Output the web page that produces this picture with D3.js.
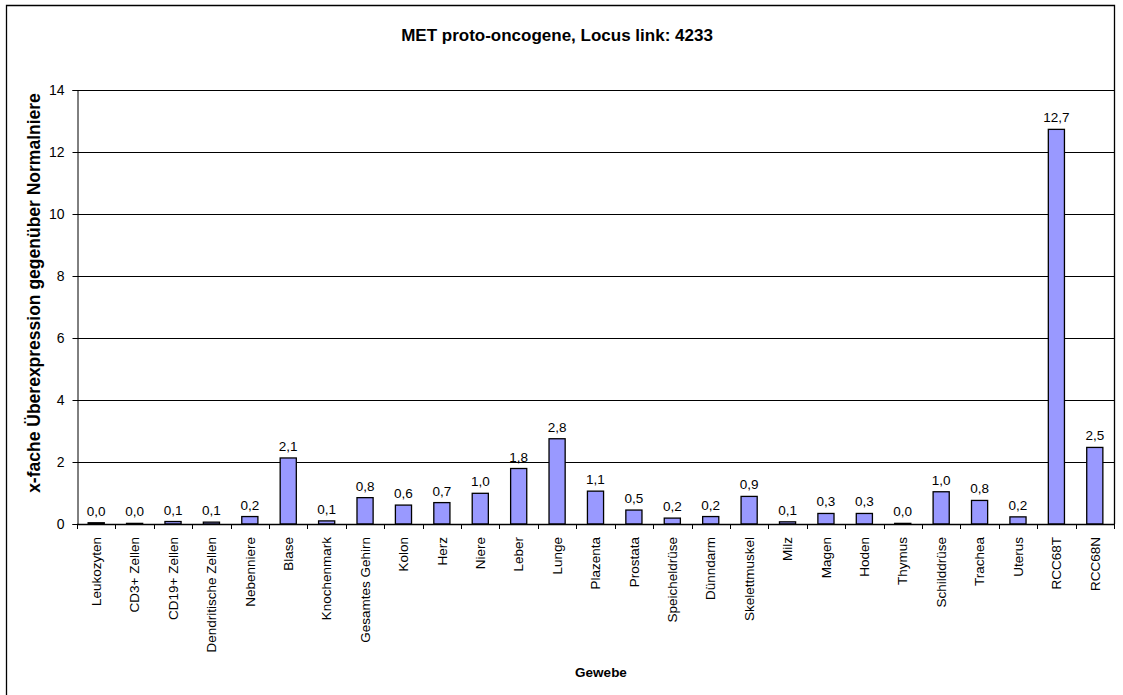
<!DOCTYPE html>
<html>
<head>
<meta charset="utf-8">
<script src="https://cdn.jsdelivr.net/npm/d3@7"></script>
<style>
  html, body { margin: 0; padding: 0; background: #fff; }
  svg { display: block; font-family: "Liberation Sans", Arial, sans-serif; }
</style>
</head>
<body>
<svg id="chart" width="1123" height="695"></svg>
<script>
const categories = ["Leukozyten", "CD3+ Zellen", "CD19+ Zellen", "Dendritische Zellen", "Nebenniere", "Blase",
  "Knochenmark", "Gesamtes Gehirn", "Kolon", "Herz", "Niere", "Leber", "Lunge", "Plazenta", "Prostata",
  "Speicheldrüse", "Dünndarm", "Skelettmuskel", "Milz", "Magen", "Hoden", "Thymus", "Schilddrüse",
  "Trachea", "Uterus", "RCC68T", "RCC68N"];
const values = [0.04, 0.02, 0.08, 0.06, 0.24, 2.13, 0.10, 0.85, 0.61, 0.69, 0.99, 1.79, 2.75, 1.06, 0.45,
  0.19, 0.24, 0.89, 0.07, 0.34, 0.34, 0.02, 1.04, 0.76, 0.23, 12.73, 2.47];
const yTicks = [0, 2, 4, 6, 8, 10, 12, 14];
const title = "MET proto-oncogene, Locus link: 4233";
const yTitle = "x-fache Überexpression gegenüber Normalniere";
const xTitle = "Gewebe";

const svg = d3.select("#chart");
const plot = { left: 77, right: 1114, top: 90, bottom: 524 };

// outer frame
svg.append("path")
  .attr("d", `M6.5,695 V5.5 H1114.5 V${plot.bottom}`)
  .attr("fill", "none").attr("stroke", "#000").attr("stroke-width", 1.3);

const x = d3.scaleBand().domain(categories).range([plot.left, plot.right])
  .paddingInner(0.58).paddingOuter(0.29);
const y = d3.scaleLinear().domain([0, 14]).range([plot.bottom, plot.top]);

// gridlines
svg.append("g").selectAll("line").data(yTicks.filter(d => d > 0)).join("line")
  .attr("x1", plot.left).attr("x2", plot.right)
  .attr("y1", d => Math.round(y(d)) + 0.5).attr("y2", d => Math.round(y(d)) + 0.5)
  .attr("stroke", "#000").attr("stroke-width", 1);

// y axis
const yAxis = svg.append("g").attr("transform", `translate(${plot.left + 0.5},0)`)
  .call(d3.axisLeft(y).tickValues(yTicks).tickSize(5).tickPadding(8).tickFormat(d3.format("d")));
yAxis.select(".domain").attr("stroke", "#000");
yAxis.selectAll("text").attr("font-size", 14).attr("fill", "#000").attr("font-family", "Liberation Sans, Arial, sans-serif");
yAxis.selectAll("line").attr("stroke", "#000");

// bars
svg.append("g").selectAll("rect").data(categories).join("rect")
  .attr("x", d => x(d))
  .attr("width", x.bandwidth())
  .attr("y", (d, i) => y(values[i]))
  .attr("height", (d, i) => y(0) - y(values[i]))
  .attr("fill", "#9999FF").attr("stroke", "#000").attr("stroke-width", 1.3);

// x axis baseline and ticks between categories
const step = x.step();
const boundaries = d3.range(categories.length + 1).map(i => plot.left + i * step);
svg.append("line").attr("x1", plot.left).attr("x2", plot.right)
  .attr("y1", plot.bottom + 0.5).attr("y2", plot.bottom + 0.5).attr("stroke", "#000").attr("stroke-width", 1.3);
svg.append("g").selectAll("line").data(boundaries).join("line")
  .attr("x1", d => Math.round(d) + 0.5).attr("x2", d => Math.round(d) + 0.5)
  .attr("y1", plot.bottom).attr("y2", plot.bottom + 5).attr("stroke", "#000");

// value labels
svg.append("g").selectAll("text").data(categories).join("text")
  .attr("x", d => x(d) + x.bandwidth() / 2)
  .attr("y", (d, i) => y(values[i]) - 7)
  .attr("text-anchor", "middle").attr("font-size", 13.5).attr("fill", "#000")
  .text((d, i) => values[i].toFixed(1).replace(".", ","));

// category labels
svg.append("g").selectAll("text").data(categories).join("text")
  .attr("transform", d => `translate(${x(d) + x.bandwidth() / 2},${plot.bottom + 13}) rotate(-90)`)
  .attr("dy", "0.35em")
  .attr("text-anchor", "end").attr("font-size", 13.5).attr("fill", "#000")
  .text(d => d);

// titles
svg.append("text").attr("x", 557).attr("y", 41).attr("text-anchor", "middle")
  .attr("font-size", 17).attr("font-weight", "bold").text(title);
svg.append("text").attr("transform", `translate(40,293) rotate(-90)`)
  .attr("text-anchor", "middle").attr("font-size", 17.5).attr("font-weight", "bold").text(yTitle);
svg.append("text").attr("x", 601).attr("y", 677).attr("text-anchor", "middle")
  .attr("font-size", 13.5).attr("font-weight", "bold").text(xTitle);
</script>
</body>
</html>
